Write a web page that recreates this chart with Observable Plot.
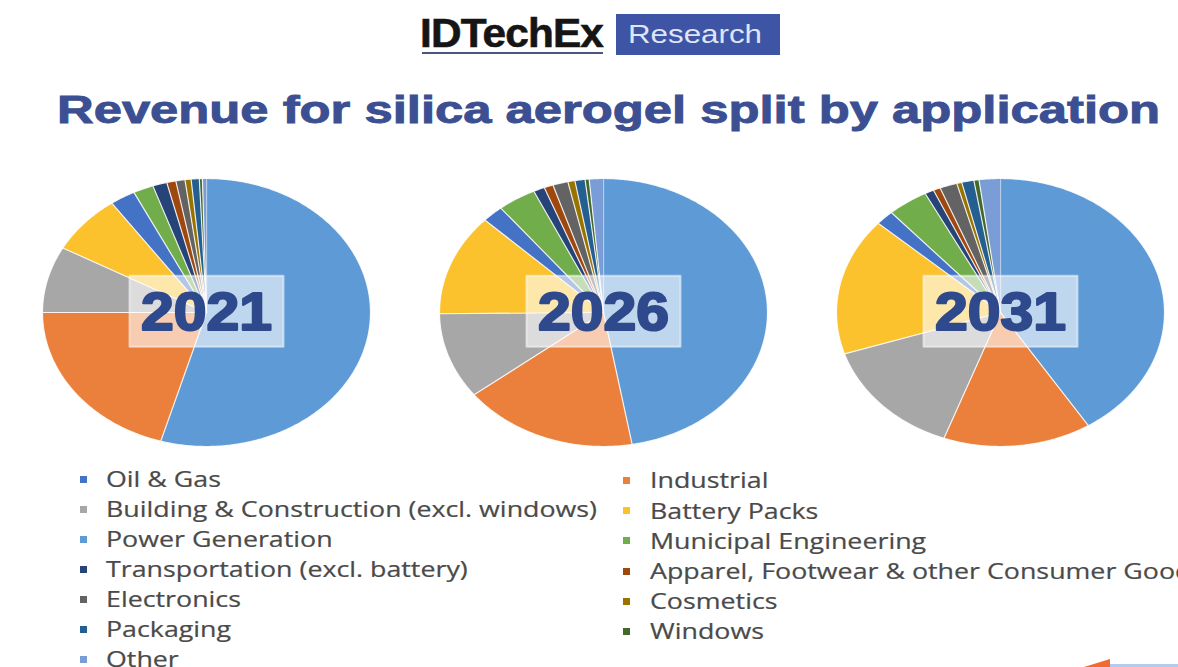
<!DOCTYPE html>
<html>
<head>
<meta charset="utf-8">
<script src="https://cdn.jsdelivr.net/npm/d3@7"></script>
<script src="https://cdn.jsdelivr.net/npm/@observablehq/plot@0.6"></script>
<style>
  html, body { margin: 0; padding: 0; background: #fff; }
  body { width: 1178px; height: 667px; position: relative; overflow: hidden; font-family: "Liberation Sans", Arial, sans-serif; }
  .abs { position: absolute; white-space: nowrap; }
  #logo1 { left: 420px; top: 13px; font-size: 40px; line-height: 40px; font-weight: bold; color: #151515; letter-spacing: -0.8px; -webkit-text-stroke: 0.6px #151515; transform-origin: 0 0; }
  #logoLine { left: 422px; top: 52px; width: 181px; height: 2px; background: #4a5680; }
  #logoBox { left: 616px; top: 14px; width: 164px; height: 41px; background: #3e55a6; }
  #logo2 { left: 628px; top: 19px; font-size: 26px; line-height: 30px; color: #dfe5f5; transform-origin: 0 0; }
  #title { left: 57px; top: 91px; font-size: 38px; line-height: 38px; font-weight: bold; color: #3b4f92; -webkit-text-stroke: 0.9px #3b4f92; transform-origin: 0 0; }
  #chart { left: 0px; top: 170px; }
  .leg { position: absolute; height: 30px; line-height: 30px; font-family: "Open Sans", sans-serif; font-size: 21px; color: #4a4a4a; white-space: nowrap; transform-origin: 0 50%; -webkit-text-stroke: 0.2px #4a4a4a; }
  .sw { position: absolute; width: 7px; height: 7px; }
  #deco1 { left: 1108px; top: 664px; width: 70px; height: 3px; background: #b3cbee; }
  #deco2 { left: 1084px; top: 659px; width: 26px; height: 8px; background: #f26a2e; clip-path: polygon(0 100%, 100% 0, 100% 100%); }
</style>
</head>
<body>
<div id="logo1" class="abs">IDTechEx</div>
<div id="logoLine" class="abs"></div>
<div id="logoBox" class="abs"></div>
<div id="logo2" class="abs">Research</div>
<div id="title" class="abs">Revenue for silica aerogel split by application</div>
<div id="chart" class="abs"></div>
<div id="legend"></div>
<div id="deco1" class="abs"></div>
<div id="deco2" class="abs"></div>
<script>
// ---- Data (shares in %, clockwise from 12 o'clock) ----
const years = ["2021", "2026", "2031"];
const categories = [
  "Power Generation",
  "Industrial",
  "Building & Construction (excl. windows)",
  "Battery Packs",
  "Oil & Gas",
  "Municipal Engineering",
  "Transportation (excl. battery)",
  "Apparel, Footwear & other Consumer Goods",
  "Electronics",
  "Cosmetics",
  "Packaging",
  "Windows",
  "Other"
];
const share2021 = [54.5, 20.5, 8.0, 7.2, 2.5, 2.0, 1.4, 0.9, 0.9, 0.6, 0.8, 0.3, 0.4];
const share2026 = [47.3, 17.3, 10.4, 12.3, 2.1, 3.8, 1.1, 0.9, 1.5, 0.7, 1.0, 0.4, 1.4];
const share2031 = [41.0, 14.6, 14.4, 16.6, 1.8, 4.0, 0.9, 0.7, 1.7, 0.5, 1.2, 0.5, 2.1];
const colors = ["#5e9bd6", "#ea803b", "#a7a7a7", "#fbc22e", "#4472c4", "#72ad4c", "#264478", "#9e480e", "#636363", "#997300", "#255e91", "#43682b", "#7a9dd8"];
// legend layout: two columns, as in the picture
const legendLeft = ["Oil & Gas", "Building & Construction (excl. windows)", "Power Generation", "Transportation (excl. battery)", "Electronics", "Packaging", "Other"];
const legendRight = ["Industrial", "Battery Packs", "Municipal Engineering", "Apparel, Footwear & other Consumer Goods", "Cosmetics", "Windows"];

const shares = [share2021, share2026, share2031];

// ---- Build slice outlines from the pie layout ----
const slices = [];
years.forEach((yr, i) => {
  const arcs = d3.pie().sort(null)(shares[i]);
  arcs.forEach((a, j) => {
    const n = Math.max(2, Math.ceil((a.endAngle - a.startAngle) / 0.01));
    slices.push({year: yr, cat: categories[j], px: 0, py: 0});
    for (let t = 0; t <= n; t++) {
      const ang = a.startAngle + (a.endAngle - a.startAngle) * t / n;
      slices.push({year: yr, cat: categories[j], px: Math.sin(ang), py: Math.cos(ang)});
    }
  });
});

const plot = Plot.plot({
  width: 1178,
  height: 290,
  marginLeft: 41,
  marginRight: 14,
  marginTop: 8,
  marginBottom: 14,
  x: {domain: [-1, 1], axis: null},
  y: {domain: [-1, 1], axis: null},
  fx: {domain: years, axis: null, paddingInner: 0.175, paddingOuter: 0},
  color: {domain: categories, range: colors},
  marks: [
    Plot.line(slices, {fx: "year", x: "px", y: "py", z: "cat", fill: "cat", stroke: "white", strokeWidth: 1.2, strokeOpacity: 0.85, curve: "linear"}),
    Plot.text(years, {fx: d => d, text: d => d, frameAnchor: "middle", fontSize: 54, fontWeight: "bold", fontFamily: "Liberation Sans, Arial, sans-serif", fill: "#2f4a8c", stroke: "#2f4a8c", strokeWidth: 2.2})
  ]
});
document.getElementById("chart").appendChild(plot);

// label boxes behind the year labels
const svgNS = "http://www.w3.org/2000/svg";
plot.querySelectorAll('g[aria-label="text"] text').forEach(t => {
  t.setAttribute("textLength", 131);
  t.setAttribute("lengthAdjust", "spacingAndGlyphs");
  const b = t.getBBox();
  const r = document.createElementNS(svgNS, "rect");
  const cx = b.x + b.width / 2, cy = b.y + b.height / 2;
  r.setAttribute("x", cx - 77);
  r.setAttribute("y", cy - 35);
  r.setAttribute("width", 154);
  r.setAttribute("height", 71);
  const tr = t.getAttribute("transform");
  if (tr) r.setAttribute("transform", tr);
  r.setAttribute("fill", "white");
  r.setAttribute("fill-opacity", 0.6);
  r.setAttribute("stroke", "white");
  r.setAttribute("stroke-opacity", 0.5);
  r.setAttribute("stroke-width", 2);
  t.parentNode.insertBefore(r, t);
});

// fit title and logo text to reference widths
function fitWidth(id, w) {
  const el = document.getElementById(id);
  const cw = el.getBoundingClientRect().width;
  el.style.transform = `scaleX(${w / cw})`;
}
fitWidth("title", 1103);
fitWidth("logo2", 134);
fitWidth("logo1", 183);

// ---- Legend ----
const legend = document.getElementById("legend");
const colorOf = c => colors[categories.indexOf(c)];
const legendItems = [];
function addLegend(list, xSw, xText, y0, step) {
  list.forEach((c, i) => {
    const cy = y0 + i * step;
    const sw = document.createElement("div");
    sw.className = "sw";
    sw.style.left = xSw + "px";
    sw.style.top = (cy - 3.5) + "px";
    sw.style.background = colorOf(c);
    legend.appendChild(sw);
    const t = document.createElement("div");
    t.className = "leg";
    t.style.left = xText + "px";
    t.style.top = (cy - 15.2) + "px";
    t.textContent = c;
    legend.appendChild(t);
    legendItems.push(t);
  });
}
addLegend(legendLeft, 80, 106, 479, 30.1);
addLegend(legendRight, 623, 650, 480.5, 30.2);
// the reference text is stretched horizontally: fit the widest left entry to its width
const ref = legendItems[1];
const k = 491 / ref.getBoundingClientRect().width;
legendItems.forEach(t => t.style.transform = `scaleX(${k})`);
</script>
</body>
</html>
